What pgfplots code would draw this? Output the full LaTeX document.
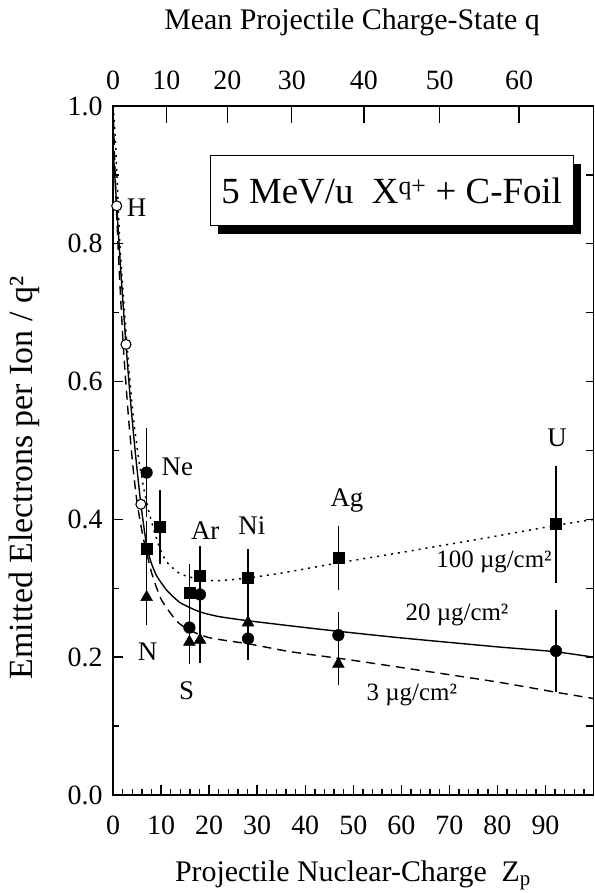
\documentclass[border=0pt]{standalone}
\usepackage{fontspec}
\setmainfont{Liberation Serif}
\usepackage{pgfplots}
\pgfplotsset{compat=1.18}
\usetikzlibrary{shadows}

\pgfplotstableread{
x y e
7.0 0.357 0.040
9.8 0.389 0.054
15.9 0.294 0.041
18.1 0.318 0.043
28.1 0.315 0.042
46.9 0.344 0.047
92.2 0.393 0.085
}\squares
\pgfplotstableread{
x y e
7.0 0.468 0.064
15.9 0.243 0.040
18.1 0.291 0.040
28.1 0.227 0.031
46.9 0.232 0.033
92.2 0.209 0.060
}\circles
\pgfplotstableread{
x y e
7.0 0.287 0.041
15.9 0.222 0.032
18.1 0.225 0.033
28.1 0.250 0.030
46.9 0.190 0.030
}\triangles

\begin{document}
\begin{tikzpicture}[x=1bp,y=1bp]
\path[use as bounding box] (0,0) rectangle (595,893);
\pgfplotsset{base/.style={at={(113bp,98bp)}, anchor=south west,
  width=480.5bp, height=689bp, scale only axis,
  xmin=0, xmax=100, ymin=0, ymax=1,
  axis line style={line width=1.8bp},
  tick align=inside,
  every tick/.style={line width=1.4bp, black},
  ticklabel style={font=\fontsize{28}{30}\selectfont},
  /pgf/number format/assume math mode=true}}

% right ticks
\begin{axis}[base, xtick=\empty, ytick={0,0.1,0.2,0.3,0.4,0.5,0.6,0.7,0.8,0.9,1.0},
  ytick pos=right, yticklabels={}, major tick length=8bp]
\end{axis}

% top axis (mean charge state)
\begin{axis}[base, ytick=\empty,
  xtick={0,11.1,23.8,37.2,52.2,68.0,84.5},
  xticklabels={0,10,20,30,40,50,60},
  xtick pos=right, xticklabel pos=right, major tick length=17bp,
  xticklabel style={yshift=13bp}]
\end{axis}

% main axis
\begin{axis}[base,
  xtick={0,10,...,90}, minor xtick={0,2,...,100}, xtick pos=left,
  ytick={0,0.2,0.4,0.6,0.8,1.0}, minor ytick={0.1,0.3,0.5,0.7,0.9}, ytick pos=left,
  yticklabel style={xshift=-7bp, /pgf/number format/.cd, fixed, fixed zerofill, precision=1},
  xticklabel style={yshift=-17bp},
  major tick length=10bp, minor tick length=6bp,
  clip=false]

% 20 ug/cm2 (solid)
\addplot[line width=1.4bp, smooth, tension=0.35] coordinates {
(0,0.94) (0.77,0.855) (1.7,0.752) (2.7,0.654) (3.6,0.575) (4.6,0.500)
(5.8,0.422) (7.0,0.362) (8.0,0.336) (9.1,0.318) (11.2,0.297) (14,0.279)
(18,0.266) (22,0.259) (28,0.253) (40,0.243) (49,0.236) (60,0.228)
(80,0.215) (92,0.208) (100,0.200)};

% 3 ug/cm2 (dashed)
\addplot[line width=1.4bp, dash pattern=on 9bp off 6bp, smooth, tension=0.35] coordinates {
(0,1.0) (0.6,0.87) (1.3,0.76) (2.2,0.645) (3.2,0.55) (4.1,0.48) (5.0,0.425)
(6.3,0.373) (8.1,0.321) (10.1,0.283) (13.3,0.252) (16,0.239) (20.2,0.228)
(28.5,0.219) (36.9,0.208) (49.4,0.196) (60,0.185) (80,0.164) (92.3,0.149) (100,0.140)};

% 100 ug/cm2 (dotted)
\addplot[line width=1.5bp, dash pattern=on 2bp off 5bp, smooth, tension=0.35] coordinates {
(0.05,1.0) (0.6,0.935) (1.5,0.79) (3.0,0.645) (4.2,0.55) (5.3,0.49) (6.4,0.445)
(7.4,0.413) (8.75,0.379) (9.8,0.357) (11.2,0.338) (14,0.321) (18,0.313)
(22,0.311) (28,0.315) (35,0.322) (47,0.337) (60,0.352) (80,0.376) (92,0.391) (100,0.400)};

% hydrogen-like open circles
\addplot[only marks, mark=*, mark size=5bp, mark options={fill=white, draw=black, line width=1.1bp}]
coordinates {(0.77,0.855) (2.7,0.654) (5.8,0.422)};

% data: 100 ug/cm2 squares
\addplot[only marks, mark=square*, mark size=5.5bp, mark options={fill=black, line width=0.5bp},
  error bars/.cd, y dir=both, y explicit, error mark=none,
  error bar style={line width=1.3bp}]
  table[x=x, y=y, y error=e] {\squares};
% data: 20 ug/cm2 circles
\addplot[only marks, mark=*, mark size=5.8bp, mark options={fill=black, line width=0.5bp},
  error bars/.cd, y dir=both, y explicit, error mark=none,
  error bar style={line width=1.3bp}]
  table[x=x, y=y, y error=e] {\circles};
% data: 3 ug/cm2 triangles
\addplot[only marks, mark=triangle*, mark size=6.8bp, mark options={fill=black, line width=0.5bp},
  error bars/.cd, y dir=both, y explicit, error mark=none,
  error bar style={line width=1.3bp}]
  table[x=x, y=y, y error=e] {\triangles};

\begin{scope}[font=\fontsize{27}{29}\selectfont]
\node at (axis cs:4.9,0.853) {H};
\node at (axis cs:13.4,0.476) {Ne};
\node at (axis cs:19.2,0.384) {Ar};
\node at (axis cs:28.9,0.391) {Ni};
\node at (axis cs:48.7,0.428) {Ag};
\node at (axis cs:7.2,0.208) {N};
\node at (axis cs:15.3,0.152) {S};
\node at (axis cs:92.4,0.519) {U};
\end{scope}
\begin{scope}[font=\fontsize{25}{27}\selectfont]
\node at (axis cs:79.3,0.338) {100 µg/cm²};
\node at (axis cs:71.6,0.261) {20 µg/cm²};
\node at (axis cs:62.2,0.145) {3 µg/cm²};
\end{scope}

\node[draw, line width=1.3bp, fill=white, minimum width=363bp, minimum height=70bp,
  inner sep=0pt, font=\fontsize{37}{40}\selectfont,
  drop shadow={shadow xshift=8bp, shadow yshift=-8bp, fill=black, opacity=1}]
  at (axis cs:58.0,0.877) {5 MeV/u\ \ X\textsuperscript{q+} + C-Foil};
\end{axis}

\node[anchor=base, font=\fontsize{30}{32}\selectfont] at (352,863) {Mean Projectile Charge-State q};
\node[anchor=base, font=\fontsize{30}{32}\selectfont] at (353,11) {Projectile Nuclear-Charge\ \ Z\textsubscript{p}};
\node[rotate=90, font=\fontsize{34}{36}\selectfont] at (24,415) {Emitted Electrons per Ion / q²};
\end{tikzpicture}
\end{document}
